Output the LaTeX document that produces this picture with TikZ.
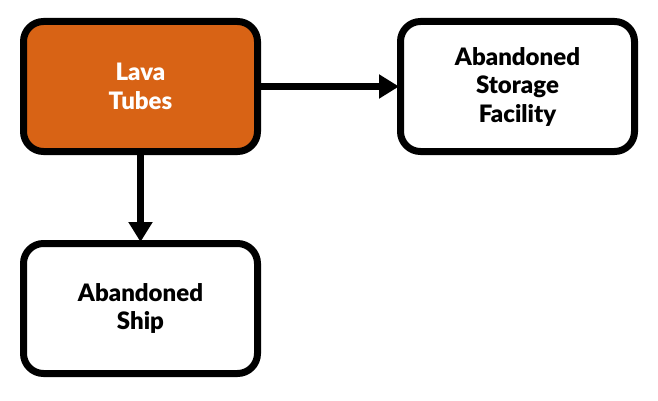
\documentclass[tikz,border=0pt]{standalone}
\usepackage{fontspec}
\setmainfont{Lato}[BoldFont={Lato Black}]
\usetikzlibrary{arrows.meta}
\definecolor{lava}{RGB}{216,99,21}
\tikzset{
  box/.style={draw=black, line width=7pt, rounded corners=20pt, minimum width=234pt, minimum height=130pt, align=center, font=\fontsize{24}{28.5}\selectfont\bfseries, inner sep=0pt},
  conn/.style={line width=7pt, -{Triangle[length=20pt,width=23pt]}, shorten >=-2pt}
}
\begin{document}
\begin{tikzpicture}[x=1pt,y=-1pt]
\useasboundingbox (0,0) rectangle (658,401);
\node[box, fill=lava, text=white] (lava) at (140.5,86.5) {Lava\\Tubes};
\node[box, fill=white] (storage) at (517.5,86.5) {Abandoned\\Storage\\Facility};
\node[box, fill=white] (ship) at (140.5,308.5) {Abandoned\\Ship};
\draw[conn] (lava.east) -- (storage.west);
\draw[conn] (lava.south) -- (ship.north);
\end{tikzpicture}
\end{document}
